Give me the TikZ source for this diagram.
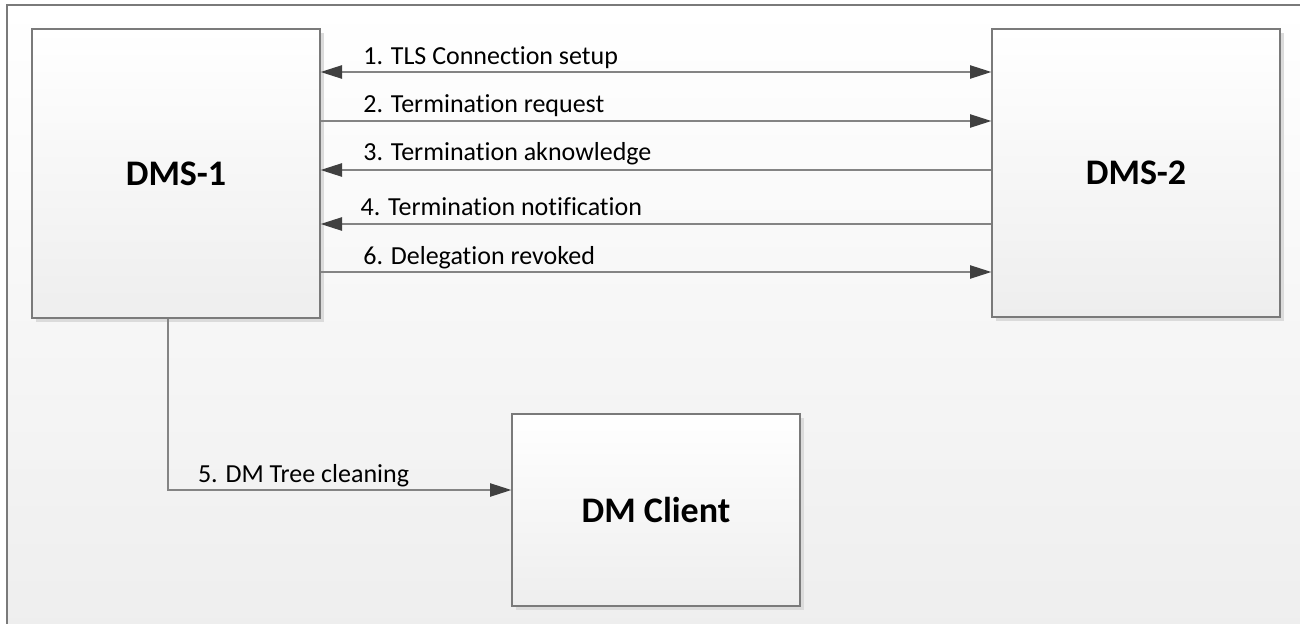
\documentclass[tikz,border=0pt]{standalone}
\usepackage{fontspec}
\setmainfont{Carlito}[Ligatures=NoCommon]
\usetikzlibrary{arrows.meta,shadows}
\definecolor{linegray}{HTML}{848484}
\definecolor{headgray}{HTML}{404040}
\definecolor{framegray}{HTML}{7A7A7A}
\definecolor{bgbot}{HTML}{EEEEEE}

\tikzset{
  box/.style={rectangle,draw=framegray,line width=1pt,top color=white,bottom color=bgbot,
    drop shadow={shadow xshift=3pt,shadow yshift=-3pt,fill=black!14,opacity=1},
    font=\fontsize{27}{32}\selectfont\bfseries,minimum width=216pt},
  msg/.style={color=linegray,line width=1pt},
  lbl/.style={anchor=base west,text=black,inner sep=0pt,font=\fontsize{19.5}{23}\selectfont},
  >={Triangle[length=16pt,width=10pt,color=headgray]}
}

\begin{document}
\begin{tikzpicture}[x=0.75pt,y=-0.75pt]
\path[use as bounding box] (0,0) rectangle (1300,624);
\begin{scope}
  \clip (0,0) rectangle (1300,624);
  \draw[framegray,line width=1pt,top color=white,bottom color=bgbot] (7,5) rectangle (1312,636);
\end{scope}

          \node [box,minimum height=216.75pt] at (176,173.5) (dms1) {DMS-1};
             \node [box,minimum height=216pt] at (1136,173) (dms2) {DMS-2};
              \node [box,minimum height=144pt] at (656,510) (dmclient) {DM Client};
%
\coordinate (m1) at (0,72);
\coordinate (m2) at (0,121);
\coordinate (m3) at (0,170);
\coordinate (m4) at (0,224);
\coordinate (m6) at (0,272);
\coordinate (m5) at (168,490);
%
\path[msg,<->] (dms1.east |- m1) edge node [lbl,pos=0,xshift=31.5pt,yshift=5.5pt] {1. TLS Connection setup} (dms2.west |- m1);
\path[msg,->] (dms1.east |- m2) edge node [lbl,pos=0,xshift=31.5pt,yshift=6pt] {2. Termination request} (dms2.west |- m2);
\path[msg,<-] (dms1.east |- m3) edge node [lbl,pos=0,xshift=31.5pt,yshift=7pt] {3. Termination aknowledge} (dms2.west |- m3);
\path[msg,<-] (dms1.east |- m4) edge node [lbl,pos=0,xshift=29.5pt,yshift=6.5pt] {4. Termination notification} (dms2.west |- m4);
\path[msg,->] (dms1.east |- m6) edge node [lbl,pos=0,xshift=31.5pt,yshift=6pt] {6. Delegation revoked} (dms2.west |- m6);
\draw[msg,->] (dms1.south -| m5) |- node [lbl,pos=0.5,xshift=22pt,yshift=6pt] {5. DM Tree cleaning} (dmclient.west |- m5);

\end{tikzpicture}
\end{document}
